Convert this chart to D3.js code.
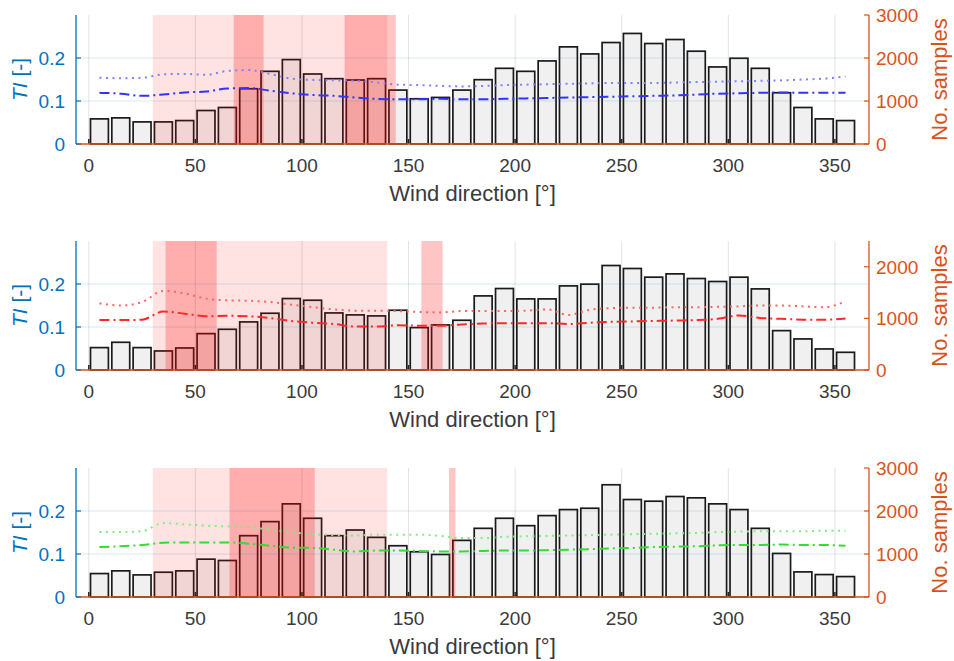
<!DOCTYPE html>
<html>
<head>
<meta charset="utf-8">
<script src="https://cdn.jsdelivr.net/npm/d3@7"></script>
<style>
  body { margin: 0; background: #fff; }
  text { font-family: "Liberation Sans", Arial, Helvetica, sans-serif; }
</style>
</head>
<body>
<script>
// bin centres (deg)
var directions = [5, 15, 25, 35, 45, 55, 65, 75, 85, 95, 105, 115, 125, 135, 145, 155, 165, 175,
    185, 195, 205, 215, 225, 235, 245, 255, 265, 275, 285, 295, 305, 315, 325, 335, 345, 355];
var xTicks = [0, 50, 100, 150, 200, 250, 300, 350];
var tiTicks = [0, 0.1, 0.2];

// panel 1 (blue)
var counts1 = [584, 608, 514, 514, 545, 779, 849, 1285, 1690, 1963, 1628, 1519, 1488, 1519, 1254, 1052, 1083, 1254,
    1496, 1760, 1690, 1932, 2259, 2095, 2360, 2571, 2337, 2430, 2158, 1792, 1994, 1760, 1192, 849, 584, 545];
var tiHigh1 = [0.154, 0.153, 0.154, 0.162, 0.163, 0.161, 0.170, 0.172, 0.163, 0.152, 0.149, 0.148, 0.147, 0.143, 0.138, 0.137, 0.135, 0.134,
    0.135, 0.137, 0.138, 0.139, 0.140, 0.141, 0.142, 0.142, 0.142, 0.143, 0.144, 0.145, 0.146, 0.147, 0.148, 0.150, 0.152, 0.157];
var tiMid1 = [0.119, 0.117, 0.112, 0.115, 0.120, 0.122, 0.129, 0.130, 0.124, 0.118, 0.114, 0.112, 0.108, 0.105, 0.104, 0.104, 0.105, 0.104,
    0.104, 0.105, 0.106, 0.107, 0.108, 0.109, 0.110, 0.111, 0.112, 0.113, 0.115, 0.117, 0.118, 0.119, 0.120, 0.119, 0.119, 0.119];
var light1 = [[30, 140]];
var dark1 = [[68, 82], [120, 144]];

// panel 2 (red)
var counts2 = [434, 537, 434, 369, 427, 705, 789, 932, 1100, 1385, 1352, 1106, 1068, 1048, 1158, 822, 873, 964,
    1436, 1579, 1378, 1378, 1630, 1663, 2025, 1967, 1799, 1863, 1773, 1715, 1799, 1572, 763, 602, 408, 343];
var tiHigh2 = [0.155, 0.150, 0.158, 0.184, 0.178, 0.166, 0.162, 0.161, 0.158, 0.152, 0.146, 0.141, 0.138, 0.138, 0.137, 0.135, 0.134, 0.137,
    0.137, 0.137, 0.138, 0.141, 0.128, 0.140, 0.144, 0.145, 0.145, 0.146, 0.146, 0.147, 0.148, 0.150, 0.150, 0.148, 0.146, 0.160];
var tiMid2 = [0.116, 0.116, 0.117, 0.136, 0.131, 0.125, 0.126, 0.125, 0.121, 0.114, 0.110, 0.107, 0.101, 0.101, 0.104, 0.103, 0.103, 0.106,
    0.108, 0.109, 0.109, 0.109, 0.107, 0.110, 0.112, 0.113, 0.114, 0.115, 0.116, 0.119, 0.127, 0.121, 0.119, 0.117, 0.117, 0.120];
var light2 = [[30, 140]];
var dark2 = [[36, 60], [156, 166]];

// panel 3 (green)
var counts3 = [545, 608, 514, 576, 608, 880, 849, 1426, 1753, 2166, 1831, 1426, 1558, 1387, 1192, 1052, 989, 1317,
    1597, 1831, 1659, 1893, 2033, 2064, 2610, 2267, 2228, 2337, 2306, 2166, 2033, 1597, 1013, 584, 522, 475];
var tiHigh3 = [0.151, 0.151, 0.153, 0.172, 0.169, 0.166, 0.164, 0.162, 0.157, 0.151, 0.146, 0.144, 0.143, 0.145, 0.145, 0.145, 0.142, 0.137,
    0.137, 0.140, 0.141, 0.142, 0.143, 0.144, 0.145, 0.146, 0.147, 0.148, 0.149, 0.151, 0.152, 0.153, 0.153, 0.153, 0.154, 0.154];
var tiMid3 = [0.116, 0.118, 0.121, 0.126, 0.127, 0.127, 0.127, 0.124, 0.119, 0.115, 0.114, 0.110, 0.106, 0.108, 0.108, 0.107, 0.106, 0.106,
    0.107, 0.108, 0.108, 0.109, 0.110, 0.111, 0.113, 0.114, 0.116, 0.117, 0.118, 0.120, 0.121, 0.121, 0.122, 0.121, 0.121, 0.119];
var light3 = [[30, 140]];
var dark3 = [[66, 106], [169, 172]];

var countMax = [3000, 2500, 3000];
var countTicks = [[0, 1000, 2000, 3000], [0, 1000, 2000], [0, 1000, 2000, 3000]];

var blue = "#0072BD", orange = "#D95319";

var svg = d3.select("body").append("svg")
    .attr("width", 954)
    .attr("height", 661);

var left = 76, right = 869, panelH = 129;
var panelTops = [15, 241, 468];

var x = d3.scaleLinear().domain([-6, 366]).range([left, right]);

function drawPanel(i, counts, tiHigh, tiMid, highColor, midColor, lightBands, darkBands) {
    var top = panelTops[i];
    var g = svg.append("g").attr("transform", "translate(0," + top + ")");

    var yTI = d3.scaleLinear().domain([0, 0.3]).range([panelH, 0]);
    var yN = d3.scaleLinear().domain([0, countMax[i]]).range([panelH, 0]);

    // vertical grid
    g.append("g").selectAll("line")
        .data(xTicks)
        .enter().append("line")
        .attr("x1", function (d) { return x(d); })
        .attr("x2", function (d) { return x(d); })
        .attr("y1", 0).attr("y2", panelH)
        .attr("stroke", "#262626").attr("stroke-opacity", 0.13).attr("stroke-width", 1);

    // bars
    var bw = 4.2;
    g.append("g").selectAll("rect")
        .data(counts)
        .enter().append("rect")
        .attr("x", function (d, j) { return x(directions[j] - bw); })
        .attr("width", function (d, j) { return x(directions[j] + bw) - x(directions[j] - bw); })
        .attr("y", function (d) { return yN(d); })
        .attr("height", function (d) { return panelH - yN(d); })
        .attr("fill", "#f0f0f0")
        .attr("stroke", "#1a1a1a")
        .attr("stroke-width", 1.7);

    // shaded sectors
    g.append("g").selectAll("rect")
        .data(lightBands)
        .enter().append("rect")
        .attr("x", function (d) { return x(d[0]); })
        .attr("width", function (d) { return x(d[1]) - x(d[0]); })
        .attr("y", 0).attr("height", panelH)
        .attr("fill", "#ff0000").attr("fill-opacity", 0.115);
    g.append("g").selectAll("rect")
        .data(darkBands)
        .enter().append("rect")
        .attr("x", function (d) { return x(d[0]); })
        .attr("width", function (d) { return x(d[1]) - x(d[0]); })
        .attr("y", 0).attr("height", panelH)
        .attr("fill", "#ff0000").attr("fill-opacity", 0.23);

    // horizontal grid
    g.append("g").selectAll("line")
        .data(tiTicks.slice(1))
        .enter().append("line")
        .attr("x1", left).attr("x2", right)
        .attr("y1", function (d) { return yTI(d); })
        .attr("y2", function (d) { return yTI(d); })
        .attr("stroke", blue).attr("stroke-opacity", 0.15).attr("stroke-width", 1);

    // TI lines
    var line = d3.line()
        .x(function (d, j) { return x(directions[j]); })
        .y(function (d) { return yTI(d); })
        .curve(d3.curveMonotoneX);

    g.append("path")
        .datum(tiHigh)
        .attr("d", line)
        .attr("fill", "none")
        .attr("stroke", highColor)
        .attr("stroke-width", 2)
        .attr("stroke-dasharray", "2,4.5");
    g.append("path")
        .datum(tiMid)
        .attr("d", line)
        .attr("fill", "none")
        .attr("stroke", midColor)
        .attr("stroke-width", 2)
        .attr("stroke-dasharray", "10,4,2,4");

    // bottom axis ticks (inward) + labels
    var xAxis = g.append("g");
    xAxis.selectAll("line")
        .data(xTicks)
        .enter().append("line")
        .attr("x1", function (d) { return x(d); })
        .attr("x2", function (d) { return x(d); })
        .attr("y1", panelH).attr("y2", panelH - 5)
        .attr("stroke", "#262626").attr("stroke-width", 1.5);
    xAxis.selectAll("text")
        .data(xTicks)
        .enter().append("text")
        .attr("x", function (d) { return x(d); })
        .attr("y", panelH + 28)
        .attr("text-anchor", "middle")
        .attr("font-size", 19)
        .attr("fill", "#3a3a3a")
        .text(function (d) { return d; });

    // baseline
    g.append("line")
        .attr("x1", left).attr("x2", right)
        .attr("y1", panelH).attr("y2", panelH)
        .attr("stroke", orange).attr("stroke-width", 1.3);

    // left axis
    var la = g.append("g");
    la.append("line")
        .attr("x1", left).attr("x2", left).attr("y1", 0).attr("y2", panelH)
        .attr("stroke", blue).attr("stroke-width", 1.3);
    la.selectAll("line.tk")
        .data(tiTicks)
        .enter().append("line").attr("class", "tk")
        .attr("x1", left).attr("x2", left + 5)
        .attr("y1", function (d) { return yTI(d); })
        .attr("y2", function (d) { return yTI(d); })
        .attr("stroke", blue).attr("stroke-width", 1.2);
    la.selectAll("text")
        .data(tiTicks)
        .enter().append("text")
        .attr("x", left - 11)
        .attr("y", function (d) { return yTI(d); })
        .attr("dy", "0.36em")
        .attr("text-anchor", "end")
        .attr("font-size", 19)
        .attr("fill", blue)
        .text(function (d) { return d === 0 ? "0" : d3.format(".1f")(d); });

    var tl = g.append("text")
        .attr("transform", "translate(27," + (panelH / 2) + ") rotate(-90)")
        .attr("text-anchor", "middle")
        .attr("font-size", 21)
        .attr("fill", blue);
    tl.append("tspan").attr("font-style", "italic").text("TI");
    tl.append("tspan").text(" [-]");

    // right axis
    var ra = g.append("g");
    ra.append("line")
        .attr("x1", right).attr("x2", right).attr("y1", 0).attr("y2", panelH)
        .attr("stroke", orange).attr("stroke-width", 1.3);
    ra.selectAll("line.tk")
        .data(countTicks[i])
        .enter().append("line").attr("class", "tk")
        .attr("x1", right).attr("x2", right - 5)
        .attr("y1", function (d) { return yN(d); })
        .attr("y2", function (d) { return yN(d); })
        .attr("stroke", orange).attr("stroke-width", 1.2);
    ra.selectAll("text")
        .data(countTicks[i])
        .enter().append("text")
        .attr("x", right + 7)
        .attr("y", function (d) { return yN(d); })
        .attr("dy", "0.36em")
        .attr("text-anchor", "start")
        .attr("font-size", 19)
        .attr("fill", orange)
        .text(function (d) { return d; });

    g.append("text")
        .attr("transform", "translate(947," + (panelH / 2) + ") rotate(-90)")
        .attr("text-anchor", "middle")
        .attr("font-size", 22)
        .attr("fill", orange)
        .text("No. samples");

    // x label
    g.append("text")
        .attr("x", (left + right) / 2)
        .attr("y", panelH + 57)
        .attr("text-anchor", "middle")
        .attr("font-size", 22)
        .attr("fill", "#3a3a3a")
        .text("Wind direction [°]");
}

drawPanel(0, counts1, tiHigh1, tiMid1, "#8080ff", "#3333ff", light1, dark1);
drawPanel(1, counts2, tiHigh2, tiMid2, "#ff6464", "#ff2828", light2, dark2);
drawPanel(2, counts3, tiHigh3, tiMid3, "#7cf07c", "#33dd33", light3, dark3);
</script>
</body>
</html>
